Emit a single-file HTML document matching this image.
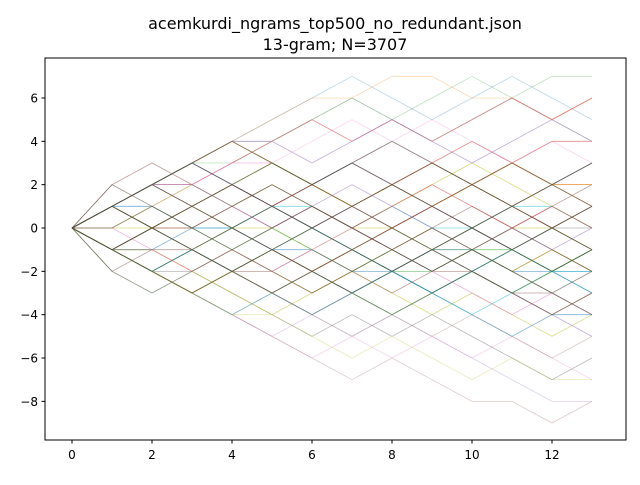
<!DOCTYPE html>
<html><head><meta charset="utf-8"><style>
body{margin:0;background:#fff;font-family:"Liberation Sans","DejaVu Sans",sans-serif}
svg text{font-family:"DejaVu Sans","Liberation Sans",sans-serif}
</style></head><body>
<svg id="chart" width="640" height="480" xmlns="http://www.w3.org/2000/svg">
<rect width="640" height="480" fill="#fff"/>
<text x="335" y="29" font-size="16" text-anchor="middle">acemkurdi_ngrams_top500_no_redundant.json</text>
<text x="335" y="50" font-size="16" text-anchor="middle">13-gram; N=3707</text>
<g id="lines"></g>
<rect x="45" y="58" width="581" height="382" fill="none" stroke="#000" stroke-width="1"/>
<g id="axes"></g>
</svg>
<script>
const xTicks=[0,2,4,6,8,10,12];
const yTicks=[6,4,2,0,-2,-4,-6,-8];
const paths=[
[0,1,2,3,4,5,6,7,6,5,6,7,6,5],
[0,1,2,3,4,5,6,6,7,7,6,6,5,6],
[0,1,2,3,3,4,5,6,5,6,7,6,7,7],
[0,1,2,2,3,4,5,4,5,4,5,6,5,6],
[0,1,2,3,4,4,3,4,5,4,3,4,5,4],
[0,1,2,3,4,3,2,1,0,1,0,-1,0,1],
[0,1,1,2,3,3,2,3,4,3,2,3,2,2],
[0,1,2,1,2,3,2,3,2,1,2,1,2,1],
[0,0,1,2,1,2,1,0,1,2,3,2,1,0],
[0,1,0,1,0,1,0,-1,0,-1,-2,-1,0,-1],
[0,-1,0,1,0,-1,0,1,0,1,0,-1,-2,-1],
[0,1,0,-1,0,1,2,1,0,-1,0,1,0,-1],
[0,-1,-2,-1,0,-1,-2,-1,-2,-2,-1,-2,-1,-2],
[0,-1,-2,-3,-2,-1,-2,-3,-2,-1,-2,-3,-4,-3],
[0,-1,-2,-3,-4,-5,-4,-5,-4,-5,-6,-7,-8,-8],
[0,-1,-2,-3,-4,-5,-6,-7,-6,-7,-8,-8,-9,-8],
[0,-1,-2,-3,-4,-5,-6,-5,-6,-5,-6,-5,-6,-7],
[0,-1,-2,-2,-3,-4,-5,-4,-5,-4,-5,-6,-7,-6],
[0,-1,-1,-2,-3,-4,-3,-2,-3,-4,-3,-4,-5,-4],
[0,-1,-2,-3,-4,-3,-4,-3,-2,-3,-4,-3,-2,-3],
[0,-1,-2,-1,-2,-3,-2,-1,-2,-1,0,-1,-2,-3],
[0,-1,-1,-2,-1,-2,-3,-2,-1,0,-1,-2,-1,-2],
[0,-1,0,-1,-2,-1,0,-1,-2,-3,-2,-1,-2,-1],
[0,1,2,1,0,-1,-2,-1,0,1,2,1,0,1],
[0,1,2,3,2,1,2,3,2,1,2,3,2,3],
[0,2,3,2,1,2,1,0,-1,0,1,0,1,2],
[0,1,0,1,2,1,0,1,0,1,0,1,2,1],
[0,1,2,1,0,1,0,-1,-2,-1,-2,-3,-2,-1],
[0,0,0,1,0,0,-1,0,0,-1,-1,0,0,-1],
[0,1,1,0,0,1,1,0,1,0,0,1,1,0],
[0,-1,-1,0,0,-1,-1,-2,-2,-1,-1,-2,-2,-2],
[0,1,2,3,4,3,2,1,2,3,2,1,2,1],
[0,-1,-2,-3,-2,-3,-4,-3,-4,-3,-2,-3,-2,-1],
[0,-1,0,1,2,1,2,1,2,3,4,3,4,4],
[0,1,0,-1,-2,-3,-4,-3,-2,-3,-2,-3,-4,-5],
[0,-1,-2,-3,-4,-3,-4,-5,-4,-5,-4,-5,-6,-5],
[0,1,2,3,2,3,4,5,4,5,4,3,4,3],
[0,-1,0,-1,0,1,0,-1,0,-1,0,-1,0,0],
[0,1,0,1,2,3,2,1,2,1,2,3,2,2],
[0,-1,-2,-1,-2,-3,-2,-3,-2,-3,-2,-1,-2,-2],
[0,1,2,3,2,1,0,-1,-2,-3,-4,-5,-4,-4],
[0,-1,-2,-3,-2,-3,-2,-1,0,1,2,3,2,2],
[0,1,0,0,-1,0,-1,-2,-1,-2,-1,-1,-2,-1],
[0,-1,0,0,1,0,1,0,1,2,1,0,1,0],
[0,1,2,2,1,0,1,2,1,0,-1,0,-1,0],
[0,-2,-1,-1,-2,-2,-1,-2,-3,-2,-2,-3,-3,-4],
[0,0,-1,-2,-1,-2,-1,0,-1,-2,-3,-4,-3,-4],
[0,1,2,3,4,4,5,6,5,4,5,6,5,4],
[0,-1,-2,-3,-4,-4,-5,-6,-5,-6,-7,-6,-7,-7]
];
const darkPaths=[
[0,1,2,1,0,-1,0,1,2,1,0,-1,0,1],
[0,-1,-2,-1,0,1,0,-1,-2,-1,0,1,0,-1],
[0,1,0,-1,-2,-3,-2,-1,0,1,2,1,0,-1],
[0,-1,0,1,2,3,2,1,0,-1,-2,-1,0,1],
[0,2,1,0,1,2,1,0,-1,-2,-1,-2,-3,-2],
[0,-2,-3,-2,-1,-2,-3,-2,-1,0,-1,-2,-3,-4],
[0,1,2,3,2,1,0,1,2,3,2,3,2,3],
[0,-1,-2,-3,-2,-1,-2,-3,-4,-3,-2,-3,-4,-3],
[0,1,0,1,2,1,2,3,2,1,0,-1,-2,-1],
[0,-1,0,-1,-2,-1,-2,-3,-2,-1,0,1,2,1],
[0,0,1,0,-1,0,1,0,-1,-2,-1,0,-1,-2],
[0,1,2,3,4,3,2,3,4,3,2,1,2,3]
];
const colors=["#1f77b4","#ff7f0e","#2ca02c","#d62728","#9467bd","#8c564b","#e377c2","#7f7f7f","#bcbd22","#17becf"];
const X=v=>72+v*40, Y=v=>228-v*21.67;
const NS="http://www.w3.org/2000/svg";
const g=document.getElementById('lines');
paths.forEach((p,i)=>{
  const pl=document.createElementNS(NS,'polyline');
  pl.setAttribute('points',p.map((v,j)=>X(j)+','+Y(v)).join(' '));
  pl.setAttribute('fill','none');
  pl.setAttribute('stroke',colors[i%10]);
  pl.setAttribute('stroke-width','0.8');
  pl.setAttribute('stroke-opacity',Math.abs(p[7])>=5?'0.3':'0.55');
  
  
  g.appendChild(pl);
});
darkPaths.forEach((p,i)=>{
  const pl=document.createElementNS(NS,'polyline');
  pl.setAttribute('points',p.map((v,j)=>X(j)+','+Y(v)).join(' '));
  pl.setAttribute('fill','none');pl.setAttribute('stroke',i%2?'#4a5a3a':'#5a4a3a');pl.setAttribute('stroke-width','0.8');
  pl.setAttribute('stroke-opacity','0.6');
  
  
  g.appendChild(pl);
});
const ax=document.getElementById('axes');
xTicks.forEach(t=>{
  const l=document.createElementNS(NS,'line');
  l.setAttribute('x1',X(t));l.setAttribute('x2',X(t));l.setAttribute('y1',440);l.setAttribute('y2',443.5);l.setAttribute('stroke','#000');
  
  
  ax.appendChild(l);
  const tx=document.createElementNS(NS,'text');
  tx.setAttribute('x',X(t));tx.setAttribute('y',459);tx.setAttribute('font-size','12');tx.setAttribute('text-anchor','middle');
  tx.textContent=t;
  
  
  ax.appendChild(tx);
});
yTicks.forEach(t=>{
  const l=document.createElementNS(NS,'line');
  l.setAttribute('x1',41.5);l.setAttribute('x2',45);l.setAttribute('y1',Y(t));l.setAttribute('y2',Y(t));l.setAttribute('stroke','#000');
  
  
  ax.appendChild(l);
  const tx=document.createElementNS(NS,'text');
  tx.setAttribute('x',38);tx.setAttribute('y',Y(t)+4.5);tx.setAttribute('font-size','12');tx.setAttribute('text-anchor','end');
  tx.textContent=t<0?'\u2212'+(-t):t;
  
  
  ax.appendChild(tx);
});
</script>
</body></html>
